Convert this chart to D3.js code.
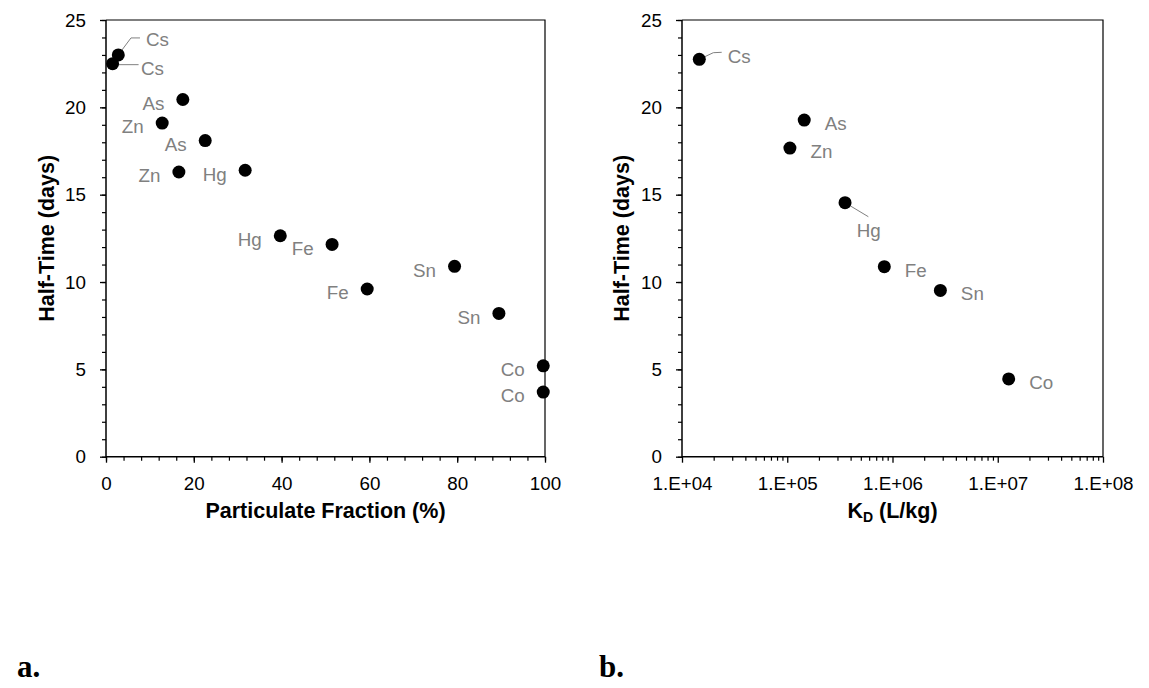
<!DOCTYPE html>
<html>
<head>
<meta charset="utf-8">
<script src="https://cdn.jsdelivr.net/npm/d3@7"></script>
<style>
  html, body { margin: 0; padding: 0; background: #fff; }
  svg { display: block; }
  .sans { font-family: "Liberation Sans", Arial, sans-serif; }
  .serif { font-family: "Liberation Serif", "Times New Roman", serif; }
</style>
</head>
<body>
<svg id="chart" width="1149" height="688"></svg>
<script>
// ---------- Data ----------
// Panel a: particulate fraction (%) vs half-time (days)
const labelsA   = ["Cs", "Cs", "As", "Zn", "As", "Zn", "Hg", "Hg", "Fe", "Fe", "Sn", "Sn", "Co", "Co"];
const partFrac  = [2.8, 1.5, 17.5, 12.8, 22.6, 16.6, 31.7, 39.7, 51.5, 59.5, 79.4, 89.5, 99.6, 99.6];
const halfTimeA = [23.0, 22.5, 20.45, 19.1, 18.1, 16.3, 16.4, 12.65, 12.15, 9.6, 10.9, 8.2, 5.2, 3.7];

// Panel b: KD (L/kg) vs half-time (days)
const labelsB   = ["Cs", "As", "Zn", "Hg", "Fe", "Sn", "Co"];
const kd        = [1.46e4, 1.45e5, 1.06e5, 3.54e5, 8.36e5, 2.85e6, 1.27e7];
const halfTimeB = [22.75, 19.27, 17.67, 14.54, 10.88, 9.52, 4.45];

// Axis ticks
const yTicks      = [0, 5, 10, 15, 20, 25];
const xTicksA     = [0, 20, 40, 60, 80, 100];
const xTicksB     = [1e4, 1e5, 1e6, 1e7, 1e8];

// ---------- Layout ----------
const svg = d3.select("#chart");
const FS = 18.8;
const TFS = 21.5;
const gray = "#808080";
const yTop = 20, yBot = 456.7;

const xA = d3.scaleLinear().domain([0, 100]).range([106, 545]);
const yA = d3.scaleLinear().domain([0, 25]).range([yBot, yTop]);
const xB = d3.scaleLog().domain([1e4, 1e8]).range([682, 1103]);
const yB = d3.scaleLinear().domain([0, 25]).range([yBot, yTop]);

function drawFrame(x, y, xTicks, xMinor, fmt) {
  const [x0, x1] = x.range();
  const g = svg.append("g");
  const yMinor = d3.range(0, 25.001, 1);
  g.append("g").attr("transform", `translate(${x0},0)`)
    .call(d3.axisLeft(y).tickValues(yMinor).tickSize(4).tickFormat(""))
    .call(s => s.select(".domain").remove())
    .selectAll("line").attr("stroke", "#000").attr("stroke-width", 1.2);
  const ya = g.append("g").attr("transform", `translate(${x0},0)`)
    .call(d3.axisLeft(y).tickValues(yTicks).tickSize(6).tickPadding(14))
    .call(s => s.select(".domain").remove());
  ya.selectAll("line").attr("stroke", "#000").attr("stroke-width", 1.3);
  ya.selectAll("text").attr("class", "sans").attr("font-size", FS).attr("fill", "#000");
  g.append("g").attr("transform", `translate(0,${yBot})`)
    .call(d3.axisBottom(x).tickValues(xMinor).tickSize(4).tickFormat(""))
    .call(s => s.select(".domain").remove())
    .selectAll("line").attr("stroke", "#000").attr("stroke-width", 1.2);
  const xa = g.append("g").attr("transform", `translate(0,${yBot})`)
    .call(d3.axisBottom(x).tickValues(xTicks).tickSize(6).tickPadding(14).tickFormat(fmt))
    .call(s => s.select(".domain").remove());
  xa.selectAll("line").attr("stroke", "#000").attr("stroke-width", 1.3);
  xa.selectAll("text").attr("class", "sans").attr("font-size", FS).attr("fill", "#000");
  g.append("path")
    .attr("d", `M${x0},${yTop}H${x1}V${yBot}`)
    .attr("fill", "none").attr("stroke", "#000").attr("stroke-width", 1.2);
  g.append("path")
    .attr("d", `M${x0},${yTop}V${yBot}H${x1}`)
    .attr("fill", "none").attr("stroke", "#000").attr("stroke-width", 1.5);
}

drawFrame(xA, yA, xTicksA, d3.range(0, 100.001, 4), d => d);
const minorB = [];
for (let e = 4; e < 8; e++) for (let m = 2; m <= 9; m++) minorB.push(m * Math.pow(10, e));
drawFrame(xB, yB, xTicksB, minorB, d => "1.E+0" + Math.round(Math.log10(d)));

// Axis titles
function yTitle(x, cy) {
  svg.append("text").attr("class", "sans")
    .attr("transform", `translate(${x},${cy}) rotate(-90)`)
    .attr("text-anchor", "middle")
    .attr("font-size", TFS).attr("font-weight", "bold")
    .text("Half-Time (days)");
}
yTitle(53.5, (yTop + yBot) / 2);
yTitle(629, (yTop + yBot) / 2);

svg.append("text").attr("class", "sans")
  .attr("x", (xA.range()[0] + xA.range()[1]) / 2).attr("y", 518)
  .attr("text-anchor", "middle").attr("font-size", TFS).attr("font-weight", "bold")
  .text("Particulate Fraction (%)");

const kt = svg.append("text").attr("class", "sans")
  .attr("x", (xB.range()[0] + xB.range()[1]) / 2).attr("y", 518)
  .attr("text-anchor", "middle").attr("font-size", TFS).attr("font-weight", "bold");
kt.append("tspan").text("K");
kt.append("tspan").attr("font-size", 14).attr("dy", 4).text("D");
kt.append("tspan").attr("dy", -4).text(" (L/kg)");

// ---------- Points & labels ----------
const offA = labelsA.map(() => ({ dx: -18.5, dy: 3.8, anchor: "end" }));
offA[0] = { dx: 27.7, dy: -15.3, anchor: "start", leader: [[0, 0], [12.7, -17], [21.7, -17]] };
offA[1] = { dx: 28.3, dy: 4.3, anchor: "start", leader: [[0, 1], [26, 1]] };

const offB = labelsB.map(() => ({ dx: 20.5, dy: 3.5, anchor: "start" }));
offB[0] = { dx: 28.4, dy: -3.3, anchor: "start", leader: [[0, 0], [14, -6.6], [22.4, -7]] };
offB[3] = { dx: 11.7, dy: 27.3, anchor: "start", leader: [[0, 0], [23.3, 14]] };

function drawPoints(xs, ys, labels, x, y, offs) {
  const g = svg.append("g");
  const data = xs.map((v, i) => ({ px: x(v), py: y(ys[i]), label: labels[i], o: offs[i] }));
  data.filter(d => d.o.leader).forEach(d => {
    g.append("path")
      .attr("d", d3.line()(d.o.leader.map(p => [d.px + p[0], d.py + p[1]])))
      .attr("fill", "none").attr("stroke", gray).attr("stroke-width", 1);
  });
  g.selectAll("circle").data(data).join("circle")
    .attr("cx", d => d.px).attr("cy", d => d.py).attr("r", 6.5).attr("fill", "#000");
  g.selectAll("text.lbl").data(data).join("text").attr("class", "lbl sans")
    .attr("x", d => d.px + d.o.dx).attr("y", d => d.py + d.o.dy)
    .attr("dy", "0.35em")
    .attr("text-anchor", d => d.o.anchor)
    .attr("font-size", FS).attr("fill", gray)
    .text(d => d.label);
}
drawPoints(partFrac, halfTimeA, labelsA, xA, yA, offA);
drawPoints(kd, halfTimeB, labelsB, xB, yB, offB);

// Panel letters
svg.append("text").attr("class", "serif").attr("x", 17).attr("y", 677)
  .attr("font-size", 31).attr("font-weight", "bold").text("a.");
svg.append("text").attr("class", "serif").attr("x", 599).attr("y", 677)
  .attr("font-size", 31).attr("font-weight", "bold").text("b.");
</script>
</body>
</html>
